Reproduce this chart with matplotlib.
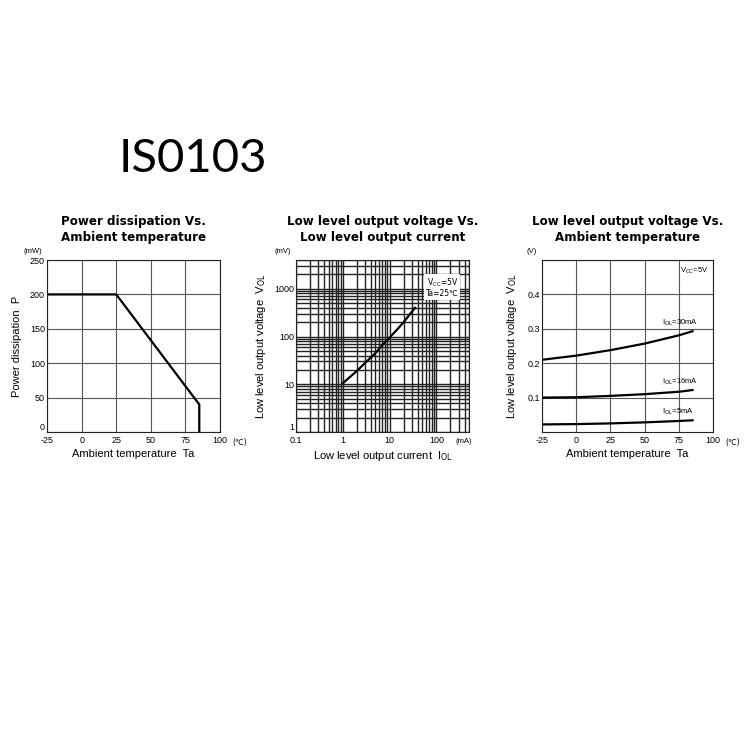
import matplotlib

matplotlib.use("Agg")
import matplotlib.pyplot as plt
from matplotlib.ticker import FixedLocator, NullFormatter, LogLocator

# power dissipation derating
pd_temp = [-25, 25, 85, 85]
pd_power = [200, 200, 40, 0]

# VOL vs IOL (Ta=25C)
iol_ma = [1, 2, 3, 5, 7, 10, 15, 20, 35]
vol_mv = [10.5, 19, 28, 45, 66, 95, 145, 200, 400]

# VOL vs Ta for three load currents
ta = [-25, 0, 25, 50, 75, 85]
vol_30ma = [0.210, 0.222, 0.238, 0.257, 0.281, 0.293]
vol_16ma = [0.100, 0.101, 0.105, 0.110, 0.117, 0.122]
vol_5ma = [0.022, 0.023, 0.025, 0.028, 0.032, 0.034]

temp_ticks = [-25, 0, 25, 50, 75, 100]
temp_labels = ["-25", "0", "25", "50", "75", "100"]

TICK_FS = 6.5
LABEL_FS = 8
TITLE_FS = 8.6
SANS = ["Liberation Sans", "DejaVu Sans"]

plt.rcParams["font.family"] = SANS

fig = plt.figure(figsize=(7.5, 7.5), dpi=100)
fig.text(0.257, 0.788, "IS0103", fontsize=34, family=["Lato", "DejaVu Sans"],
         ha="center", va="center")


def style_axes(ax):
    ax.tick_params(which="both", length=0, labelsize=TICK_FS, pad=1.5)
    ax.tick_params(axis="x", pad=3)
    for s in ax.spines.values():
        s.set_linewidth(0.8)
        s.set_color("#222222")


def lift_bottom_label(ax):
    # keep the lowest y label clear of the first x label, as in the datasheet
    ax.figure.canvas.draw()
    labels = ax.get_yticklabels()
    if labels:
        labels[0].set_va("bottom")


def title(ax, txt):
    ax.set_title(txt, fontsize=TITLE_FS, fontweight="bold", family=["DejaVu Sans"],
                 pad=14, linespacing=1.3)


# panel 1
ax1 = fig.add_axes([0.0627, 0.424, 0.2307, 0.2293])
ax1.plot(pd_temp, pd_power, color="black", lw=1.6)
ax1.set_xlim(-25, 100)
ax1.set_ylim(0, 250)
ax1.set_xticks(temp_ticks, temp_labels)
ax1.set_yticks([0, 50, 100, 150, 200, 250], ["0", "50", "100", "150", "200", "250"])
ax1.grid(True, color="#555555", lw=0.8)
style_axes(ax1)
lift_bottom_label(ax1)
ax1.set_xlabel("Ambient temperature  Ta", fontsize=LABEL_FS, labelpad=3)
ax1.set_ylabel("Power dissipation  P", fontsize=LABEL_FS, labelpad=6)
ax1.text(-0.03, 1.03, "(mW)", transform=ax1.transAxes, fontsize=5.5, ha="right", va="bottom")
ax1.text(1.07, -0.035, "(\u2103)", transform=ax1.transAxes, fontsize=5.5, ha="left", va="top",
         family=["DejaVu Sans"])
title(ax1, "Power dissipation Vs.\nAmbient temperature")

# panel 2
ax2 = fig.add_axes([0.3947, 0.424, 0.2307, 0.2293])
ax2.plot(iol_ma, vol_mv, color="black", lw=1.6)
ax2.set_xscale("log")
ax2.set_yscale("log")
ax2.set_xlim(0.1, 500)
ax2.set_ylim(1, 4000)
ax2.set_xticks([0.1, 1, 10, 100], ["0.1", "1", "10", "100"])
ax2.set_yticks([1, 10, 100, 1000], ["1", "10", "100", "1000"])
ax2.xaxis.set_minor_locator(LogLocator(base=10, subs=range(2, 10)))
ax2.yaxis.set_minor_locator(LogLocator(base=10, subs=range(2, 10)))
ax2.xaxis.set_minor_formatter(NullFormatter())
ax2.yaxis.set_minor_formatter(NullFormatter())
ax2.grid(True, which="both", color="#222222", lw=1.0)
style_axes(ax2)
lift_bottom_label(ax2)
ax2.set_xlabel(r"Low level output current  I$_{\mathrm{OL}}$", fontsize=LABEL_FS, labelpad=3)
ax2.set_ylabel(r"Low level output voltage  V$_{\mathrm{OL}}$", fontsize=LABEL_FS, labelpad=4)
ax2.text(-0.03, 1.03, "(mV)", transform=ax2.transAxes, fontsize=5.5, ha="right", va="bottom")
ax2.text(0.92, -0.035, "(mA)", transform=ax2.transAxes, fontsize=5.5, ha="left", va="top")
ax2.text(0.94, 0.84, "V$_{\\mathrm{CC}}$=5V\nTa=25\u2103", transform=ax2.transAxes, fontsize=5.5,
         ha="right", va="center", family=["DejaVu Sans"], linespacing=1.0,
         bbox=dict(facecolor="white", edgecolor="none", pad=1.2))
title(ax2, "Low level output voltage Vs.\nLow level output current")

# panel 3
ax3 = fig.add_axes([0.7227, 0.424, 0.228, 0.2293])
for v in (vol_30ma, vol_16ma, vol_5ma):
    ax3.plot(ta, v, color="black", lw=1.6)
ax3.set_xlim(-25, 100)
ax3.set_ylim(0, 0.5)
ax3.set_xticks(temp_ticks, temp_labels)
ax3.yaxis.set_major_locator(FixedLocator([0.1, 0.2, 0.3, 0.4, 0.5]))
ax3.set_yticklabels(["0.1", "0.2", "0.3", "0.4", ""])
ax3.grid(True, color="#555555", lw=0.8)
style_axes(ax3)
ax3.set_xlabel("Ambient temperature  Ta", fontsize=LABEL_FS, labelpad=3)
ax3.set_ylabel(r"Low level output voltage  V$_{\mathrm{OL}}$", fontsize=LABEL_FS, labelpad=6)
ax3.text(-0.03, 1.03, "(V)", transform=ax3.transAxes, fontsize=5.5, ha="right", va="bottom")
ax3.text(1.07, -0.035, "(\u2103)", transform=ax3.transAxes, fontsize=5.5, ha="left", va="top",
         family=["DejaVu Sans"])
ax3.text(97, 0.47, "V$_{\\mathrm{CC}}$=5V", fontsize=5.5, ha="right", va="center")
ax3.text(63, 0.317, "I$_{\\mathrm{OL}}$=30mA", fontsize=5.5, ha="left", va="center")
ax3.text(63, 0.145, "I$_{\\mathrm{OL}}$=16mA", fontsize=5.5, ha="left", va="center")
ax3.text(63, 0.058, "I$_{\\mathrm{OL}}$=5mA", fontsize=5.5, ha="left", va="center")
title(ax3, "Low level output voltage Vs.\nAmbient temperature")

fig.savefig("out.png", dpi=100, facecolor="white")
